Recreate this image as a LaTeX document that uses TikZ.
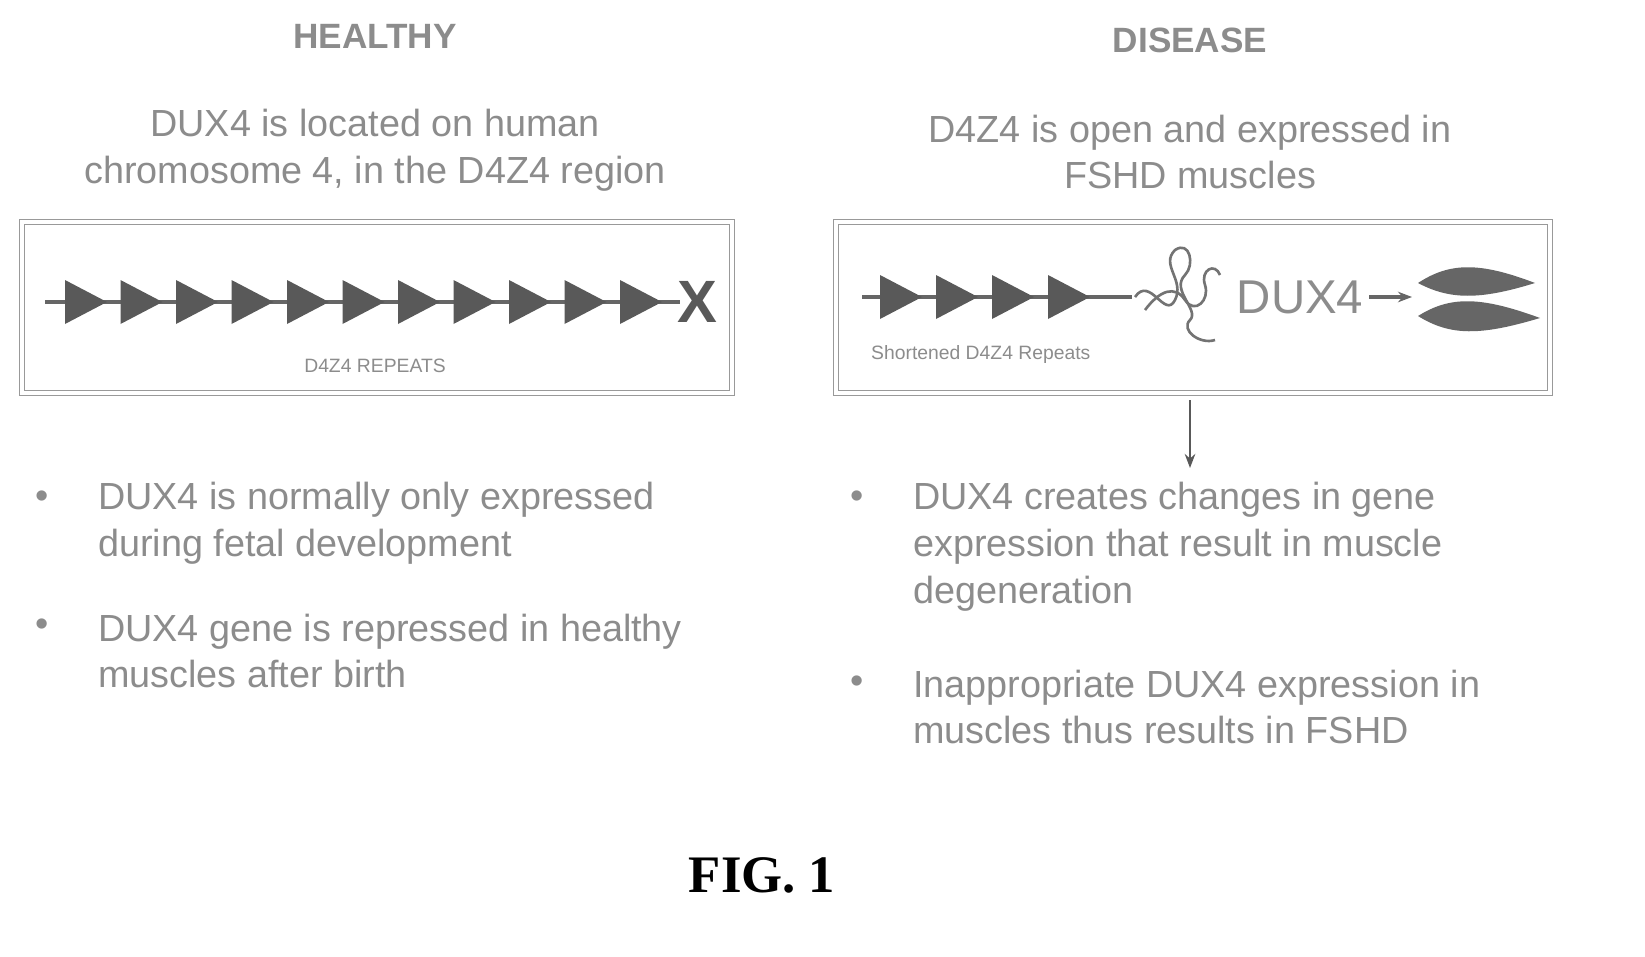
\documentclass[tikz,border=0pt]{standalone}
\usepackage{fontspec}
\setmainfont{Liberation Serif}
\setsansfont{Liberation Sans}
\usetikzlibrary{positioning,arrows.meta}
\definecolor{txtgray}{gray}{0.55}
\definecolor{boxgray}{gray}{0.6}
\tikzstyle{title}=[font=\sffamily\bfseries\fontsize{20}{24}\selectfont, text=txtgray]
\tikzstyle{body}=[font=\sffamily\fontsize{21.5}{26.7}\selectfont, text=txtgray, align=left]
\tikzstyle{sub}=[font=\sffamily\fontsize{21.5}{26.7}\selectfont, text=txtgray, align=center]
\tikzstyle{small}=[font=\sffamily\fontsize{11}{13}\selectfont, text=txtgray]
\tikzstyle{repeat}=[fill=black!65, draw=none]
\tikzstyle{strand}=[draw=black!60, line width=2.5pt]
\tikzstyle{panel}=[draw=boxgray, double=white, double distance=2pt, line width=0.6pt]
\begin{document}
\begin{tikzpicture}[x=0.02cm, y=-0.02cm]
  \useasboundingbox (0,0) rectangle (1645,956);

  % headings
  \node[title] (healthy) at (375,36) {HEALTHY};
  \node[title] (disease) at (1190,40) {DISEASE};
  \node[sub] (hsub) at (375,150) {DUX4 is located on human\\chromosome 4, in the D4Z4 region};
  \node[sub] (dsub) at (1190,152) {D4Z4 is open and expressed in\\FSHD muscles};

  % healthy panel
  \draw[panel] (22,222) rectangle (732,393);
  \coordinate (hl) at (45,302);
  \coordinate (hr) at (680,302);
  \draw[strand] (hl) -- (hr);
  \foreach \i in {0,...,10}
    \fill[repeat] (65+55.5*\i,280) -- (107+55.5*\i,302) -- (65+55.5*\i,324) -- cycle;
  \node[font=\sffamily\bfseries\fontsize{34}{34}\selectfont, text=black!65] (x) at (697,302) {X};
  \node[small] (hlab) at (375,366) {D4Z4 REPEATS};

  % disease panel
  \draw[panel] (836,222) rectangle (1550,393);
  \coordinate (dl) at (862,297);
  \coordinate (dr) at (1132,297);
  \draw[strand] (dl) -- (dr);
  \foreach \i in {0,...,3}
    \fill[repeat] (880+56*\i,275) -- (922+56*\i,297) -- (880+56*\i,319) -- cycle;
  % open chromatin squiggle
  \draw[black!55, line width=1.5pt] (1135,297) .. controls (1150,275) and (1165,320) .. (1175,300)
    .. controls (1185,280) and (1160,265) .. (1175,250) .. controls (1190,240) and (1195,265) .. (1185,275)
    .. controls (1170,290) and (1200,310) .. (1190,320) .. controls (1180,330) and (1200,345) .. (1215,340);
  \draw[black!55, line width=1.5pt] (1145,310) .. controls (1160,290) and (1175,285) .. (1185,300)
    .. controls (1195,315) and (1210,300) .. (1205,285) .. controls (1200,270) and (1215,262) .. (1220,275);
  \node[font=\sffamily\fontsize{27}{27}\selectfont, text=txtgray] (dux) at (1300,297) {DUX4};
  \coordinate (muscle) at (1412,297);
  \draw[black!60, line width=2pt, -{Stealth[length=8pt]}] (dux) -- (muscle);
  \fill[black!60] (1418,283) .. controls (1450,262) and (1480,262) .. (1535,283)
    .. controls (1480,300) and (1450,300) .. cycle;
  \fill[black!60] (1418,316) .. controls (1450,296) and (1480,296) .. (1540,318)
    .. controls (1480,336) and (1450,336) .. cycle;
  \node[small, anchor=west] (dlab) at (865,355) {Shortened D4Z4 Repeats};

  \coordinate (below) at (1190,468);
  \draw[black!65, line width=1.2pt, -{Stealth[length=8pt]}] (1190,400) -- (below);

  % bullets
  \node[body, anchor=west] (hb1) at (92,523) {DUX4 is normally only expressed\\during fetal development};
  \node[body, anchor=west] (hb2) at (92,651) {DUX4 gene is repressed in healthy\\muscles after birth};
  \node[body, anchor=west] (db1) at (907,547) {DUX4 creates changes in gene\\expression that result in muscle\\degeneration};
  \node[body, anchor=west] (db2) at (907,707) {Inappropriate DUX4 expression in\\muscles thus results in FSHD};
  \foreach \b/\y in {hb1/500, hb2/628}
    \node[body] at (42,\y) {\textbullet};
  \foreach \b/\y in {db1/500, db2/685}
    \node[body] at (857,\y) {\textbullet};

  \node[font=\bfseries\fontsize{30}{30}\selectfont] (fig) at (762,875) {FIG. 1};
\end{tikzpicture}
\end{document}
